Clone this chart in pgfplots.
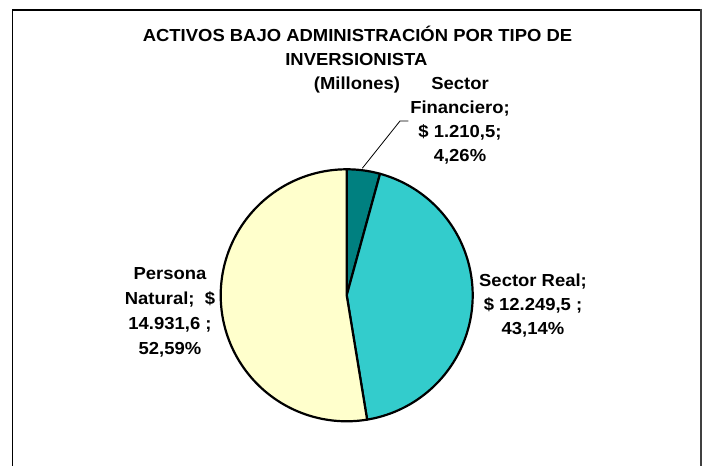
\documentclass[border=0pt]{standalone}
\usepackage{pgfplots}
\pgfplotsset{compat=1.18}
\usepackage{fontspec}
\setmainfont[FakeStretch=1.06]{Liberation Sans}
\definecolor{cFin}{HTML}{008080}
\definecolor{cReal}{HTML}{33CCCC}
\definecolor{cNat}{HTML}{FFFFCC}
\definecolor{cFrame}{HTML}{404040}
% data (millones)
\def\vFin{1210.5}
\def\vReal{12249.5}
\def\vNat{14931.6}
\pgfmathsetmacro\tot{\vFin/1000+\vReal/1000+\vNat/1000}
\pgfmathsetmacro\aStart{90}
\pgfmathsetmacro\aFin{\aStart-360*(\vFin/1000)/\tot}
\pgfmathsetmacro\aReal{\aFin-360*(\vReal/1000)/\tot}
\pgfmathsetmacro\aNat{\aReal-360*(\vNat/1000)/\tot}
\def\cx{346.7}
\def\cy{170.7}
\def\R{126}
\begin{document}
\begin{tikzpicture}
\begin{axis}[
  x=1bp, y=1bp,
  xmin=0, xmax=710, ymin=0, ymax=466,
  hide axis, clip=false,
  at={(0,0)}, anchor=south west,
]
% wedges
\addplot[fill=cFin, draw=black, line width=2.2bp, line join=round, domain=\aFin:\aStart, samples=40, variable=\t]
  ({\cx+\R*cos(\t)}, {\cy+\R*sin(\t)}) -- (axis cs:\cx,\cy) -- cycle;
\addplot[fill=cReal, draw=black, line width=2.2bp, line join=round, domain=\aReal:\aFin, samples=120, variable=\t]
  ({\cx+\R*cos(\t)}, {\cy+\R*sin(\t)}) -- (axis cs:\cx,\cy) -- cycle;
\addplot[fill=cNat, draw=black, line width=2.2bp, line join=round, domain=\aNat:\aReal, samples=140, variable=\t]
  ({\cx+\R*cos(\t)}, {\cy+\R*sin(\t)}) -- (axis cs:\cx,\cy) -- cycle;
% leader line
\draw[black, line width=0.8bp] (axis cs:362.3,297.7) -- (axis cs:400,345) -- (axis cs:408.3,345);
% frame
\draw[black, line width=1.2bp] (axis cs:12.5,-5) -- (axis cs:12.5,456) -- (axis cs:700,456);
\draw[cFrame, line width=2bp] (axis cs:700.5,457) -- (axis cs:700.5,-5);
% texts
\begin{scope}[every node/.style={anchor=base, inner sep=0pt, font=\fontsize{17.4bp}{24bp}\selectfont\bfseries}]
\node at (axis cs:357.5,424.3) {ACTIVOS BAJO ADMINISTRACIÓN POR TIPO DE};
\node at (axis cs:356.4,400.3) {INVERSIONISTA};
\node at (axis cs:357,376.5) {(Millones)};
\node at (axis cs:460,376) {Sector};
\node at (axis cs:460,352) {Financiero;};
\node at (axis cs:460,328) {\$ 1.210,5;};
\node at (axis cs:460,304) {4,26\%};
\node at (axis cs:170,186) {Persona};
\node at (axis cs:170,161) {Natural;\ \ \$};
\node at (axis cs:170,136) {14.931,6 ;};
\node at (axis cs:170,111) {52,59\%};
\node at (axis cs:533,179.3) {Sector Real;};
\node at (axis cs:533,155) {\$ 12.249,5 ;};
\node at (axis cs:533,131) {43,14\%};
\end{scope}
\end{axis}
\pgfresetboundingbox
\path (current axis.south west) rectangle (current axis.north east);
\end{tikzpicture}
\end{document}
